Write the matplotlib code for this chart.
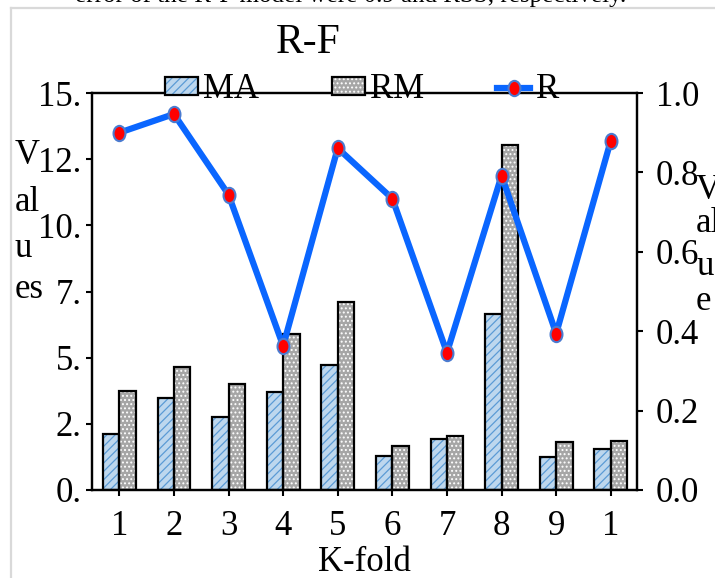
import numpy as np
import matplotlib
matplotlib.use("Agg")
import matplotlib.pyplot as plt
from matplotlib.lines import Line2D
from matplotlib.patches import Patch
from matplotlib.path import Path
from matplotlib.transforms import Affine2D

plt.rcParams['font.family'] = ['Liberation Serif', 'DejaVu Serif']
plt.rcParams['hatch.linewidth'] = 0.9

# Resultados por particion (K-fold)
folds = np.arange(1, 11)
etiquetas_x = ['1', '2', '3', '4', '5', '6', '7', '8', '9', '1']
ma = [2.11, 3.47, 2.76, 3.71, 4.74, 1.29, 1.92, 6.65, 1.24, 1.55]
rm = [3.74, 4.66, 4.02, 5.89, 7.11, 1.66, 2.05, 13.02, 1.80, 1.87]
r = [0.900, 0.947, 0.744, 0.363, 0.861, 0.734, 0.346, 0.792, 0.394, 0.880]

ticks_izq = [0, 2.5, 5, 7.5, 10, 12.5, 15]
etiquetas_izq = ['0.', '2.', '5.', '7.', '10.', '12.', '15.']
ticks_der = [0, 0.2, 0.4, 0.6, 0.8, 1.0]
etiquetas_der = ['0.0', '0.2', '0.4', '0.6', '0.8', '1.0']

W, H = 715, 578
FS = 25
fig = plt.figure(figsize=(W / 100, H / 100), dpi=100)
ax = fig.add_axes([92 / W, 1 - 490 / H, (637 - 92) / W, (490 - 93) / H])

x = np.arange(len(folds))
ancho = 0.3
c_ma, h_ma = '#BDD7EE', '#5B9BD5'
c_rm, h_rm = '#A6A6A6', '#FFFFFF'

# barras rellenas con trama, luego el contorno negro encima
ax.bar(x - ancho / 2, ma, ancho, color=c_ma, edgecolor=h_ma, hatch='////', linewidth=0)
ax.bar(x + ancho / 2, rm, ancho, color=c_rm, edgecolor=h_rm, hatch='....', linewidth=0)
ax.bar(x - ancho / 2, ma, ancho, fill=False, edgecolor='black', linewidth=1.6)
ax.bar(x + ancho / 2, rm, ancho, fill=False, edgecolor='black', linewidth=1.6)

ax.set_xlim(-0.5, 9.48)
ax.set_ylim(0, 15)
ax.set_yticks(ticks_izq)
ax.set_yticklabels(etiquetas_izq)
ax.set_xticks(x)
ax.set_xticklabels(etiquetas_x)
ax.tick_params(axis='both', labelsize=FS, width=1.5, length=4.5, direction='out')
ax.tick_params(axis='y', pad=3)
ax.tick_params(axis='x', pad=10)
for s in ax.spines.values():
    s.set_linewidth(1.6)
ax.set_xlabel('K-fold', fontsize=FS, labelpad=2)

# eje secundario para R
ax2 = ax.twinx()
elipse = Path.unit_circle().transformed(Affine2D().scale(0.78, 1.0))
ax2.plot(x, r, color='#0A66FF', linewidth=4.5, marker=elipse, markersize=11,
         markerfacecolor='#FF0000', markeredgecolor='#4A7BD0', markeredgewidth=1.5,
         zorder=5)
ax2.set_ylim(0, 1)
ax2.set_yticks(ticks_der)
ax2.set_yticklabels(etiquetas_der)
ax2.tick_params(axis='y', labelsize=FS, width=1.5, length=4.5, direction='out', pad=9)
for s in ax2.spines.values():
    s.set_linewidth(1.6)

# leyenda
h1 = (Patch(facecolor=c_ma, edgecolor=h_ma, hatch='////', linewidth=0),
      Patch(fill=False, edgecolor='black', linewidth=1.6))
h2 = (Patch(facecolor=c_rm, edgecolor=h_rm, hatch='....', linewidth=0),
      Patch(fill=False, edgecolor='black', linewidth=1.6))
h3 = Line2D([], [], color='#0A66FF', linewidth=4.5, marker=elipse, markersize=11,
            markerfacecolor='#FF0000', markeredgecolor='#4A7BD0', markeredgewidth=1.5)
fig.legend([h1, h2, h3], ['MA', 'RM', 'R'], loc='center', ncol=3, frameon=False,
           bbox_to_anchor=(362 / W, 1 - 90 / H), fontsize=FS, handlelength=0.95,
           handleheight=0.4, handletextpad=0.15, columnspacing=2.1, borderpad=0)

# titulo y rotulos de los ejes
fig.text(308 / W, 1 - 43 / H, 'R-F', fontsize=30, ha='center', va='center')
for txt, yy in [('V', 164), ('al', 211), ('u', 257), ('es', 298)]:
    fig.text(15 / W, 1 - yy / H, txt, fontsize=FS, ha='left', va='baseline')
for txt, xx, yy in [('V', 696, 199), ('al', 696, 232), ('u', 697, 275), ('e', 696, 310)]:
    fig.text(xx / W, 1 - yy / H, txt, fontsize=FS, ha='left', va='baseline')

# texto de la pagina cortado arriba y marco
fig.text(75 / W, 1 - 2 / H, 'error of the R-F model were 0.9 and RSS, respectively.',
         fontsize=18, ha='left', va='baseline')
fig.add_artist(Line2D([11.5 / W, 11.5 / W], [0, 1 - 8 / H], color='#D9D9D9', linewidth=1.6))
fig.add_artist(Line2D([11.5 / W, 1], [1 - 8 / H, 1 - 8 / H], color='#D9D9D9', linewidth=1.6))

fig.savefig('out.png', dpi=100)
